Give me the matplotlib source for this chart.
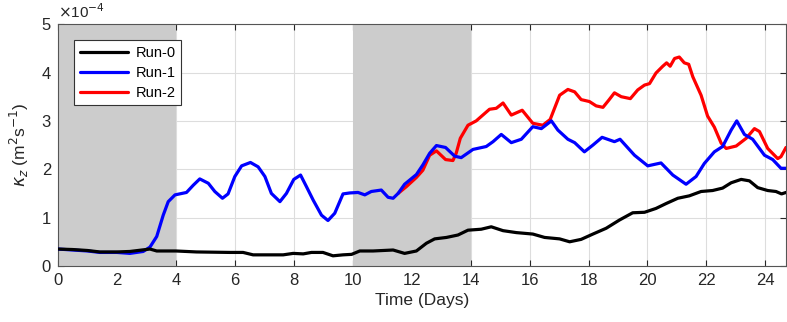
import matplotlib.pyplot as plt

plt.rcParams['font.family'] = ['Liberation Sans', 'DejaVu Sans']

# kappa_z in units of 1e-4 m^2/s
run0_days = [0, 0.5, 1.0, 1.42, 2.0, 2.44, 3.12, 3.35, 4.0, 4.7, 5.83, 6.28, 6.62, 7.64, 7.98, 8.32,
             8.6, 8.99, 9.33, 9.67, 9.96, 10.24, 10.69, 11.37, 11.76, 12.16, 12.5, 12.78, 13.18,
             13.57, 13.91, 14.36, 14.7, 15.1, 15.55, 16.11, 16.51, 17.02, 17.36, 17.75, 18.15,
             18.6, 19.05, 19.5, 19.9, 20.29, 20.63, 21.03, 21.42, 21.82, 22.21, 22.55, 22.84,
             23.18, 23.46, 23.74, 24.08, 24.36, 24.55, 24.7]
run0_vals = [0.35, 0.34, 0.32, 0.29, 0.29, 0.30, 0.35, 0.31, 0.31, 0.29, 0.28, 0.28, 0.23, 0.23, 0.26, 0.25,
             0.28, 0.28, 0.21, 0.23, 0.24, 0.31, 0.31, 0.33, 0.26, 0.31, 0.47, 0.56, 0.59,
             0.64, 0.74, 0.76, 0.81, 0.73, 0.69, 0.66, 0.59, 0.56, 0.50, 0.55, 0.66,
             0.78, 0.95, 1.10, 1.11, 1.19, 1.29, 1.40, 1.45, 1.54, 1.56, 1.61, 1.72,
             1.79, 1.76, 1.62, 1.56, 1.54, 1.49, 1.52]

run1_days = [0, 0.5, 1.0, 1.42, 2.0, 2.44, 2.89, 3.12, 3.35, 3.57, 3.74, 3.97, 4.36, 4.59, 4.81, 5.10,
             5.32, 5.58, 5.77, 6.0, 6.23, 6.53, 6.79, 7.02, 7.24, 7.53, 7.75, 8.0, 8.23, 8.43, 8.66,
             8.94, 9.16, 9.39, 9.67, 9.9, 10.18, 10.41, 10.63, 10.97, 11.2, 11.37, 11.54, 11.76,
             12.16, 12.38, 12.61, 12.84, 13.15, 13.46, 13.68, 14.08, 14.53, 14.76, 15.04, 15.38,
             15.72, 16.11, 16.4, 16.74, 16.96, 17.3, 17.53, 17.86, 18.15, 18.46, 18.88, 19.07,
             19.56, 20.01, 20.46, 20.86, 21.31, 21.65, 21.93, 22.27, 22.55, 22.84, 23.03, 23.29,
             23.57, 23.97, 24.25, 24.53, 24.7]
run1_vals = [0.35, 0.33, 0.31, 0.28, 0.28, 0.26, 0.30, 0.39, 0.61, 1.05, 1.33, 1.47, 1.52, 1.67, 1.80, 1.71,
             1.54, 1.40, 1.49, 1.85, 2.07, 2.14, 2.05, 1.85, 1.50, 1.33, 1.50, 1.79, 1.88, 1.64, 1.36,
             1.05, 0.94, 1.09, 1.49, 1.51, 1.52, 1.47, 1.54, 1.57, 1.42, 1.40, 1.50, 1.69,
             1.89, 2.09, 2.33, 2.49, 2.45, 2.27, 2.24, 2.41, 2.47, 2.57, 2.72, 2.55,
             2.62, 2.88, 2.84, 3.00, 2.81, 2.62, 2.55, 2.36, 2.50, 2.66, 2.57, 2.62,
             2.29, 2.07, 2.13, 1.88, 1.69, 1.85, 2.12, 2.36, 2.47, 2.81, 3.00, 2.72,
             2.62, 2.29, 2.20, 2.02, 2.02]

run2_days = [11.54, 11.82, 12.16, 12.38, 12.61, 12.84, 13.15, 13.4, 13.51, 13.65, 13.91, 14.19, 14.64,
             14.87, 15.1, 15.38, 15.75, 16.11, 16.45, 16.7, 17.02, 17.3, 17.53, 17.75, 18.03, 18.26,
             18.49, 18.69, 18.88, 19.11, 19.42, 19.67, 19.9, 20.07, 20.29, 20.52, 20.65, 20.77, 20.92,
             21.08, 21.25, 21.4, 21.54, 21.82, 22.04, 22.27, 22.5, 22.67, 23.01, 23.35, 23.63, 23.8,
             24.08, 24.42, 24.53, 24.7]
run2_vals = [1.50, 1.64, 1.83, 1.98, 2.29, 2.38, 2.20, 2.18, 2.33, 2.64, 2.91, 3.00, 3.24,
             3.26, 3.37, 3.12, 3.22, 2.95, 2.91, 3.03, 3.53, 3.65, 3.60, 3.44, 3.40, 3.31,
             3.28, 3.43, 3.58, 3.50, 3.46, 3.64, 3.74, 3.77, 3.99, 4.13, 4.20, 4.13, 4.29,
             4.32, 4.20, 4.17, 3.91, 3.53, 3.10, 2.87, 2.54, 2.43, 2.48, 2.64, 2.84, 2.78,
             2.43, 2.22, 2.26, 2.45]

shaded = [(0, 4), (10, 14)]

fig = plt.figure(figsize=(7.87, 3.22), dpi=100)
ax = fig.add_axes([0.0737, 0.174, 0.925, 0.751])

for a, b in shaded:
    ax.axvspan(a, b, color='#cccccc', lw=0, zorder=1)

kw = dict(lw=2.3, solid_joinstyle='round', solid_capstyle='round')
ax.plot(run2_days, run2_vals, color='#ff0000', zorder=3, label='Run-2', **kw)
ax.plot(run1_days, run1_vals, color='#0000ff', zorder=4, label='Run-1', **kw)
ax.plot(run0_days, run0_vals, color='black', zorder=5, label='Run-0', **kw)

ax.set_xlim(0, 24.7)
ax.set_ylim(0, 5)
ax.set_xticks(range(0, 25, 2))
ax.set_yticks(range(0, 6))
ax.grid(True, color='#dddddd', lw=0.8)
ax.set_axisbelow(True)
ax.tick_params(direction='in', top=True, right=True, labelsize=12, colors='#262626', length=4, pad=5)
for s in ax.spines.values():
    s.set_color('#555555')
    s.set_linewidth(0.8)

ax.set_xlabel('Time (Days)', fontsize=12.5, color='#262626', labelpad=4)
ax.set_ylabel(r'$\kappa_z$ (m$^2$s$^{-1}$)', fontsize=12.5, color='#262626', labelpad=8)
ax.text(0, 1.012, r'$\times$10$^{-4}$', transform=ax.transAxes, fontsize=11, color='#262626',
        ha='left', va='bottom')

h, l = ax.get_legend_handles_labels()
leg = ax.legend(h[::-1], l[::-1], loc='upper left', bbox_to_anchor=(0.022, 0.934), borderaxespad=0,
                fontsize=10.5, fancybox=False, framealpha=1, edgecolor='#333333', handlelength=3.3,
                borderpad=0.4, labelspacing=0.4, handletextpad=0.5)
leg.get_frame().set_linewidth(0.8)

fig.savefig('out.png', dpi=100)
